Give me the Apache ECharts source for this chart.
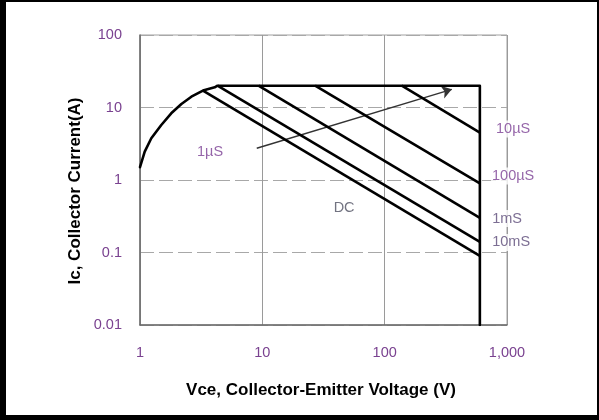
<!DOCTYPE html>
<html>
<head>
<meta charset="utf-8">
<script src="https://cdn.jsdelivr.net/npm/echarts@6/dist/echarts.min.js"></script>
<style>
  html, body { margin: 0; padding: 0; background: #fff; }
  #chart { width: 599px; height: 420px; }
</style>
</head>
<body>
<div id="chart"></div>
<script>
// ---- data ----
const xTickValues = [1, 10, 100, 1000];
const xTickLabels = ['1', '10', '100', '1,000'];
const yTickValues = [0.01, 0.1, 1, 10, 100];
const yTickLabels = ['0.01', '0.1', '1', '10', '100'];

// rising curve at low voltage
const curveV = [1, 1.093, 1.237, 1.493, 1.80, 2.18, 2.63, 3.27, 4.08, 4.3];
const curveI = [1.50, 2.46, 3.76, 5.74, 8.32, 11.2, 14.1, 17.1, 19.0, 20];

// outer SOA boundary: current limit and voltage limit
const boundaryV = [4.3, 600, 600];
const boundaryI = [20, 20, 0.01];

// pulse / DC power lines
const pulseNames = ['10µS', '100µS', '1mS', '10mS', 'DC'];
const pulseStartV = [138, 27, 9.3, 4.3, 3.27];
const pulseStartI = [20, 20, 20, 20, 17.1];
const pulseEndV = [600, 600, 600, 600, 600];
const pulseEndI = [4.5, 0.9, 0.30, 0.14, 0.09];

// arrow
const arrowStart = [9.0, 2.74];
const arrowEnd = [354, 17.8];

// annotation labels (text, V, I)
const noteTexts = ['1µS', 'DC', '10µS', '100µS', '1mS', '10mS'];
const noteV = [3.74, 46.6, 1122, 1122, 1002, 1081];
const noteI = [2.43, 0.411, 5.05, 1.135, 0.294, 0.1374];
const noteColors = ['#7b3f93', '#4f5062', '#7b3f93', '#7b3f93', '#5b4a78', '#5b4a78'];

// ---- chart ----
const FONT = '"Liberation Sans", Arial, sans-serif';
const tickColor = '#7a4290';

function pairs(xs, ys) { return xs.map((x, i) => [x, ys[i]]); }
function lookup(values, labels, v) {
  const lv = Math.log10(v);
  for (let i = 0; i < values.length; i++) {
    if (Math.abs(Math.log10(values[i]) - lv) < 1e-6) return labels[i];
  }
  return '';
}

const series = [];
series.push({
  type: 'line', data: pairs(curveV, curveI).concat(pairs(boundaryV, boundaryI).slice(1)),
  smooth: false, symbol: 'none',
  lineStyle: { color: '#000', width: 2.6, join: 'round', cap: 'round' }, silent: true, z: 5
});
pulseNames.forEach((n, i) => {
  series.push({
    type: 'line', name: n,
    data: [[pulseStartV[i], pulseStartI[i]], [pulseEndV[i], pulseEndI[i]]],
    symbol: 'none', lineStyle: { color: '#000', width: 2.6 }, silent: true, z: 5
  });
});
// arrow
series.push({
  type: 'line', data: [], silent: true, z: 6,
  markLine: {
    silent: true, symbol: ['none', 'arrow'], symbolSize: 10,
    label: { show: false },
    lineStyle: { color: '#333', width: 1.4, type: 'solid' },
    itemStyle: { color: '#333' },
    data: [[{ coord: arrowStart }, { coord: arrowEnd }]],
    animation: false
  }
});
// labels
series.push({
  type: 'scatter', clip: false, symbolSize: 0, silent: true, z: 10,
  data: noteTexts.map((t, i) => ({
    value: [noteV[i], noteI[i]],
    label: {
      show: true, position: 'inside', formatter: t,
      color: noteColors[i], fontSize: 14.5, fontFamily: FONT,
      backgroundColor: i >= 2 ? '#fff' : 'transparent', padding: [1, 1]
    }
  }))
});

const option = {
  animation: false,
  backgroundColor: '#fff',
  grid: {
    left: 140, right: 92, top: 35, bottom: 95,
    show: true, borderColor: '#a0a0a0', borderWidth: 1, backgroundColor: 'transparent'
  },
  xAxis: {
    type: 'log', logBase: 10, min: 1, max: 1000,
    axisLine: { show: true, lineStyle: { color: '#6a6a6a', width: 1.5 } },
    axisTick: { show: false },
    minorTick: { show: false },
    axisLabel: {
      color: tickColor, fontSize: 14.5, fontFamily: FONT, margin: 20,
      formatter: v => lookup(xTickValues, xTickLabels, v)
    },
    splitLine: { show: true, lineStyle: { color: '#9a9a9a', width: 1, type: 'solid' } }
  },
  yAxis: {
    type: 'log', logBase: 10, min: 0.01, max: 100,
    axisLine: { show: true, lineStyle: { color: '#6a6a6a', width: 1.5 } },
    axisTick: { show: false },
    minorTick: { show: false },
    axisLabel: {
      color: tickColor, fontSize: 14.5, fontFamily: FONT, margin: 18,
      formatter: v => lookup(yTickValues, yTickLabels, v)
    },
    splitLine: { show: true, lineStyle: { color: '#a8a8a8', width: 1.2, type: [14, 5] } }
  },
  series: series,
  graphic: [
    { type: 'text', x: 321, y: 390, silent: true,
      style: { text: 'Vce, Collector-Emitter Voltage (V)', font: 'bold 17px ' + FONT,
               fill: '#000', align: 'center', verticalAlign: 'middle' } },
    { type: 'text', x: 75, y: 191, rotation: Math.PI / 2, silent: true,
      style: { text: 'Ic, Collector Current(A)', font: 'bold 17px ' + FONT,
               fill: '#000', align: 'center', verticalAlign: 'middle' } },
    { type: 'rect', silent: true, shape: { x: 0, y: 0, width: 6, height: 420 }, style: { fill: '#000' } },
    { type: 'rect', silent: true, shape: { x: 0, y: 0, width: 599, height: 2 }, style: { fill: '#000' } },
    { type: 'rect', silent: true, shape: { x: 0, y: 415, width: 599, height: 5 }, style: { fill: '#000' } },
    { type: 'rect', silent: true, shape: { x: 597, y: 0, width: 2, height: 420 }, style: { fill: '#000' } }
  ]
};

const chart = echarts.init(document.getElementById('chart'), null, { renderer: 'canvas' });
chart.setOption(option);
</script>
</body>
</html>
